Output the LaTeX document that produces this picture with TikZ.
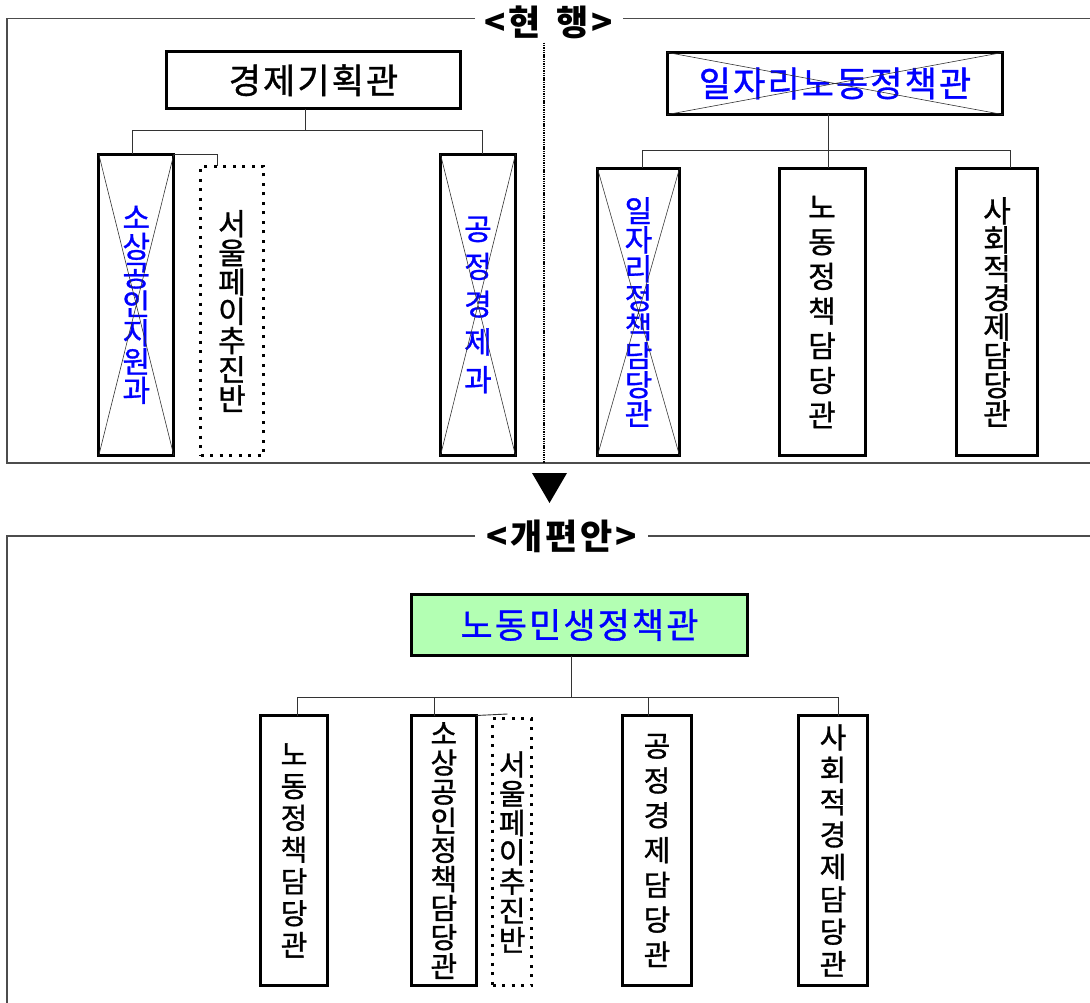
\documentclass[tikz,border=0pt]{standalone}
\usepackage{fontspec}
\newfontfamily\kr{Noto Sans CJK KR}[UprightFeatures={FakeBold=1}]
\definecolor{kblue}{RGB}{0,0,255}
\definecolor{kgreen}{RGB}{179,255,179}
\begin{document}
\begin{tikzpicture}[x=1pt,y=-1pt,
  box/.style={draw=black, line width=3pt, inner sep=0pt, outer sep=0pt, align=center},
  xbox/.style={box},
  dotbox/.style={draw=black, line width=3pt, dash pattern=on 3pt off 6.5pt, inner sep=0pt, outer sep=0pt, align=center},
  conn/.style={draw=black!80, line width=0.9pt},
  frame/.style={draw=black!70, line width=1.1pt},
  divider/.style={draw=black, line width=2.2pt, dash pattern=on 1.4pt off 0.9pt},
  crs/.style={draw=black!80, line width=0.6pt},
  hdr/.style={font=\kr\bfseries\fontsize{35}{36}\selectfont\addfontfeature{LetterSpace=8}, inner sep=0pt},
  vt/.style 2 args={font=\kr\fontsize{#1}{#2}\selectfont},
  htext/.style={font=\kr\fontsize{#1}{38}\selectfont\addfontfeature{LetterSpace=6}},
]
\useasboundingbox (0,0) rectangle (1090,1003);

% frames
\draw[frame] (475,18.3) -- (7,18.3) -- (7,463) -- (1090,463);
\draw[frame] (623,18.3) -- (1090,18.3);
\draw[divider] (543.6,42.7) -- (543.6,463);
\draw[frame] (475,536) -- (7,536) -- (7,1003);
\draw[frame] (648,536) -- (1090,536);
\node[hdr] (h1) at (549,22) {<현\hspace{16pt}행>};
\node[hdr] (h2) at (562,536) {<개편안>};
\fill[black] (532,473) -- (567,473) -- (549.5,503) -- cycle;

% current
\node[box, minimum width=294pt, minimum height=57pt, htext=35] (gj) at (313.5,80.3) {경제기획관};
\node[xbox, minimum width=75pt, minimum height=301pt, text=kblue, vt={30}{28.8}] (sg) at (136.3,304.9) {소\\상\\공\\인\\지\\원\\과};
\node[dotbox, minimum width=63pt, minimum height=289pt, vt={30}{29.2}] (sp1) at (232,311) {서\\울\\페\\이\\추\\진\\반};
\node[xbox, minimum width=75pt, minimum height=301pt, text=kblue, vt={30}{37.75}] (gc) at (478,304.9) {공\\정\\경\\제\\과};
\node[xbox, minimum width=335pt, minimum height=62pt, text=kblue, htext=35] (il) at (835,83.5) {일자리노동정책관};
\node[xbox, minimum width=82pt, minimum height=287pt, text=kblue, vt={30}{29}] (ij) at (638.5,312) {일\\자\\리\\정\\책\\담\\당\\관};
\node[box, minimum width=86pt, minimum height=287pt, vt={30}{34.7}] (nd) at (822,312) {노\\동\\정\\책\\담\\당\\관};
\node[box, minimum width=81pt, minimum height=287pt, vt={30}{29}] (sh) at (997,312) {사\\회\\적\\경\\제\\담\\당\\관};

\foreach \n in {sg,gc,il,ij}{
  \draw[crs] (\n.north west) -- (\n.south east) (\n.north east) -- (\n.south west);
}

\coordinate (t1) at (305,130);
\coordinate (t1L) at (132,130);
\coordinate (t1R) at (482.5,130);
\coordinate (t1s) at (217,152.7);
\draw[conn] (gj.south -| t1) -- (t1);
\draw[conn] (sg.north -| t1L) -- (t1L) -- (t1R) -- (gc.north -| t1R);
\draw[conn] (sg.north east) -| (sp1.north -| t1s);

\coordinate (t2) at (828,150);
\coordinate (t2L) at (642,150);
\coordinate (t2R) at (1010,150);
\draw[conn] (il.south -| t2) -- (nd.north -| t2);
\draw[conn] (ij.north -| t2L) -- (t2L) -- (t2R) -- (sh.north -| t2R);

% proposed
\node[box, fill=kgreen, minimum width=336pt, minimum height=61pt, text=kblue, htext=35] (nm) at (579.5,625) {노동민생정책관};
\node[box, minimum width=67pt, minimum height=270pt, vt={29}{31.8}] (b1) at (294,850.5) {노\\동\\정\\책\\담\\당\\관};
\node[box, minimum width=65pt, minimum height=270pt, vt={29}{29.1}] (b2) at (443.8,850.5) {소\\상\\공\\인\\정\\책\\담\\당\\관};
\node[dotbox, minimum width=39pt, minimum height=267pt, vt={29}{29.3}] (b3) at (512.2,852) {서\\울\\페\\이\\추\\진\\반};
\node[box, minimum width=69pt, minimum height=270pt, vt={29}{34.8}] (b4) at (657,850.5) {공\\정\\경\\제\\담\\당\\관};
\node[box, minimum width=69pt, minimum height=270pt, vt={29}{32.4}] (b5) at (833,850.5) {사\\회\\적\\경\\제\\담\\당\\관};

\coordinate (t3) at (571,697);
\coordinate (t3L) at (297,697);
\coordinate (t3R) at (838,697);
\coordinate (t3a) at (434.5,697);
\coordinate (t3b) at (648.6,697);
\coordinate (t3s) at (507.5,714);
\draw[conn] (nm.south -| t3) -- (t3);
\draw[conn] (b1.north -| t3L) -- (t3L) -- (t3R) -- (b5.north -| t3R);
\draw[conn] (t3a) -- (b2.north -| t3a);
\draw[conn] (t3b) -- (b4.north -| t3b);
\draw[conn] (b2.north east) -- (t3s);
\end{tikzpicture}
\end{document}
